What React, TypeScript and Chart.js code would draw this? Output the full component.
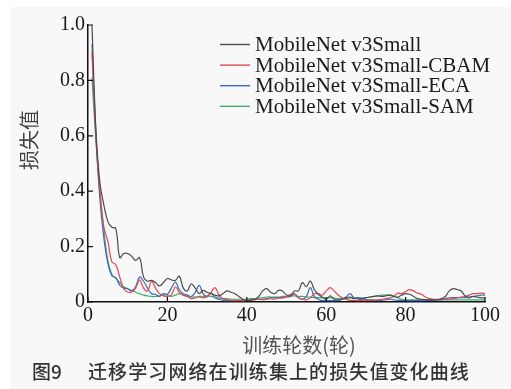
import React, { useEffect, useRef } from "react";
import { Chart, registerables } from "chart.js";
Chart.register(...registerables);

const epochs: number[] = Array.from({ length: 100 }, (_, i) => i + 1);

const seriesNames = [
  "MobileNet v3Small",
  "MobileNet v3Small-CBAM",
  "MobileNet v3Small-ECA",
  "MobileNet v3Small-SAM",
];
const seriesColors = ["#4d4d4d", "#e5484d", "#3b68c0", "#3daa6e"];

const baseLoss = [
  1.0, 0.62, 0.43, 0.35, 0.29, 0.27, 0.265, 0.16, 0.175, 0.175,
  0.165, 0.15, 0.16, 0.09, 0.075, 0.078, 0.07, 0.058, 0.07, 0.085,
  0.08, 0.078, 0.093, 0.05, 0.04, 0.065, 0.05, 0.03, 0.042, 0.035,
  0.03, 0.025, 0.022, 0.03, 0.04, 0.035, 0.03, 0.02, 0.01, 0.005,
  0.006, 0.01, 0.02, 0.04, 0.048, 0.035, 0.03, 0.042, 0.04, 0.025,
  0.022, 0.04, 0.04, 0.07, 0.055, 0.076, 0.045, 0.028, 0.018, 0.01,
  0.022, 0.01, 0.008, 0.01, 0.015, 0.018, 0.012, 0.015, 0.012, 0.015,
  0.018, 0.02, 0.022, 0.02, 0.022, 0.025, 0.02, 0.018, 0.025, 0.03,
  0.028, 0.02, 0.012, 0.01, 0.008, 0.008, 0.008, 0.008, 0.012, 0.02,
  0.04, 0.048, 0.045, 0.04, 0.022, 0.018, 0.02, 0.018, 0.015, 0.015,
];

const cbamLoss = [
  0.9, 0.6, 0.4, 0.27, 0.22, 0.145, 0.135, 0.09, 0.048, 0.036,
  0.036, 0.05, 0.08, 0.05, 0.04, 0.075, 0.05, 0.03, 0.022, 0.02,
  0.025, 0.055, 0.035, 0.025, 0.02, 0.012, 0.015, 0.018, 0.015, 0.02,
  0.035, 0.052, 0.025, 0.012, 0.008, 0.006, 0.006, 0.006, 0.005, 0.006,
  0.008, 0.008, 0.01, 0.008, 0.01, 0.012, 0.01, 0.015, 0.015, 0.02,
  0.028, 0.03, 0.015, 0.01, 0.008, 0.015, 0.03, 0.03, 0.025, 0.04,
  0.052, 0.04, 0.025, 0.015, 0.01, 0.006, 0.006, 0.005, 0.006, 0.006,
  0.006, 0.006, 0.008, 0.01, 0.012, 0.015, 0.02, 0.032, 0.03, 0.038,
  0.045, 0.04, 0.032, 0.028, 0.018, 0.012, 0.01, 0.01, 0.01, 0.01,
  0.01, 0.012, 0.015, 0.018, 0.02, 0.025, 0.03, 0.03, 0.032, 0.03,
];

const ecaLoss = [
  0.93, 0.6, 0.37, 0.23, 0.14, 0.095, 0.088, 0.06, 0.05, 0.048,
  0.04, 0.055, 0.09, 0.075, 0.05, 0.03, 0.028, 0.02, 0.03, 0.028,
  0.05, 0.072, 0.045, 0.03, 0.025, 0.02, 0.035, 0.06, 0.03, 0.018,
  0.033, 0.015, 0.01, 0.006, 0.005, 0.005, 0.005, 0.005, 0.005, 0.005,
  0.008, 0.01, 0.01, 0.01, 0.012, 0.015, 0.015, 0.015, 0.015, 0.018,
  0.02, 0.03, 0.015, 0.01, 0.02, 0.052, 0.02, 0.01, 0.005, 0.005,
  0.005, 0.005, 0.005, 0.01, 0.018, 0.03, 0.015, 0.01, 0.01, 0.01,
  0.008, 0.008, 0.006, 0.006, 0.008, 0.01, 0.008, 0.006, 0.006, 0.005,
  0.005, 0.005, 0.005, 0.005, 0.005, 0.006, 0.006, 0.008, 0.008, 0.012,
  0.015, 0.016, 0.016, 0.016, 0.016, 0.015, 0.02, 0.022, 0.025, 0.025,
];

const samLoss = [
  0.81, 0.58, 0.4, 0.26, 0.15, 0.1, 0.085, 0.07, 0.055, 0.048,
  0.042, 0.035, 0.03, 0.025, 0.022, 0.02, 0.02, 0.022, 0.025, 0.025,
  0.02, 0.025, 0.03, 0.025, 0.02, 0.018, 0.018, 0.02, 0.02, 0.022,
  0.02, 0.018, 0.015, 0.012, 0.012, 0.01, 0.01, 0.01, 0.01, 0.01,
  0.012, 0.012, 0.015, 0.015, 0.018, 0.018, 0.018, 0.018, 0.02, 0.02,
  0.022, 0.022, 0.02, 0.02, 0.018, 0.018, 0.016, 0.016, 0.015, 0.015,
  0.015, 0.015, 0.012, 0.012, 0.012, 0.015, 0.015, 0.015, 0.015, 0.016,
  0.018, 0.02, 0.022, 0.025, 0.025, 0.026, 0.022, 0.015, 0.01, 0.008,
  0.008, 0.008, 0.008, 0.008, 0.008, 0.008, 0.008, 0.008, 0.008, 0.008,
  0.008, 0.008, 0.008, 0.008, 0.008, 0.008, 0.008, 0.008, 0.008, 0.008,
];

const allSeries = [baseLoss, cbamLoss, ecaLoss, samLoss];

const xTicks = [0, 20, 40, 60, 80, 100];
const yTicks = [0, 0.2, 0.4, 0.6, 0.8, 1.0];
const yTitle = "损失值";
const xTitle = "训练轮数(轮)";
const figLabel = "图9";
const caption = "迁移学习网络在训练集上的损失值变化曲线";

const decorPlugin = {
  id: "decor",
  beforeDraw(chart: any) {
    const ctx = chart.ctx;
    ctx.save();
    ctx.fillStyle = "#ffffff";
    ctx.fillRect(0, 0, chart.width, chart.height);
    ctx.fillStyle = "#f8f8f8";
    ctx.fillRect(10, 7, chart.width - 10, chart.height - 7);
    ctx.restore();
  },
  afterDraw(chart: any) {
    const ctx = chart.ctx;
    const xs = chart.scales.x;
    const ys = chart.scales.y;
    const { left, bottom } = chart.chartArea;
    ctx.save();
    // inward ticks
    ctx.strokeStyle = "#111";
    ctx.lineWidth = 1.2;
    ctx.beginPath();
    xTicks.forEach((v) => {
      const px = xs.getPixelForValue(v);
      ctx.moveTo(px, bottom);
      ctx.lineTo(px, bottom - 5);
    });
    yTicks.forEach((v) => {
      const py = ys.getPixelForValue(v);
      ctx.moveTo(left, py);
      ctx.lineTo(left + 5, py);
    });
    ctx.stroke();

    // legend
    chart.data.datasets.forEach((ds: any, i: number) => {
      const y = 44.5 + i * 20.6;
      ctx.strokeStyle = ds.borderColor;
      ctx.lineWidth = 1.4;
      ctx.beginPath();
      ctx.moveTo(220, y);
      ctx.lineTo(250, y);
      ctx.stroke();
      ctx.fillStyle = "#1a1a1a";
      ctx.font = '21px "Liberation Serif"';
      ctx.textAlign = "left";
      ctx.textBaseline = "middle";
      ctx.fillText(ds.label, 255, y + 1);
    });

    // y title
    ctx.save();
    ctx.translate(29, 140);
    ctx.rotate(-Math.PI / 2);
    ctx.fillStyle = "#444";
    ctx.font = '20px "Noto Sans CJK SC"';
    ctx.textAlign = "center";
    ctx.textBaseline = "middle";
    ctx.fillText(yTitle, 0, 0);
    ctx.restore();

    // x title
    ctx.fillStyle = "#555";
    ctx.font = '20px "Noto Sans CJK SC"';
    ctx.textAlign = "center";
    ctx.textBaseline = "middle";
    ctx.fillText(xTitle, 299, 345);

    // caption
    ctx.fillStyle = "#333";
    ctx.font = '500 19px "Noto Sans CJK SC"';
    ctx.textAlign = "left";
    ctx.textBaseline = "middle";
    ctx.fillText(figLabel, 32, 372);
    const chars = Array.from(caption);
    chars.forEach((c, i) => {
      ctx.fillText(c, 88 + i * 20.1, 372);
    });
    ctx.restore();
  },
};

export default function App() {
  const ref = useRef<HTMLCanvasElement | null>(null);
  useEffect(() => {
    if (!ref.current) return;
    const chart = new Chart(ref.current, {
      type: "line",
      data: {
        datasets: allSeries.map((s, i) => ({
          label: seriesNames[i],
          data: s.map((v, j) => ({ x: epochs[j], y: v })),
          borderColor: seriesColors[i],
          backgroundColor: seriesColors[i],
          borderWidth: 1.2,
          pointRadius: 0,
          tension: 0.4,
          fill: false,
        })),
      },
      options: {
        animation: false,
        responsive: false,
        maintainAspectRatio: false,
        layout: { padding: { top: 25, right: 26, left: 0, bottom: 0 } },
        plugins: {
          legend: { display: false },
          tooltip: { enabled: false },
        },
        scales: {
          x: {
            type: "linear",
            min: 0,
            max: 100,
            afterFit: (s: any) => {
              s.height = 87;
            },
            afterBuildTicks: (s: any) => {
              s.ticks = xTicks.map((v) => ({ value: v }));
            },
            ticks: {
              font: { family: "Liberation Serif", size: 20 },
              color: "#1a1a1a",
              padding: 2,
              maxRotation: 0,
              autoSkip: false,
            },
            grid: { drawOnChartArea: false, drawTicks: false },
            border: { display: true, color: "#111", width: 1.5 },
          },
          y: {
            type: "linear",
            min: 0,
            max: 1.0,
            afterFit: (s: any) => {
              s.width = 88;
            },
            afterBuildTicks: (s: any) => {
              s.ticks = yTicks.map((v) => ({ value: v }));
            },
            ticks: {
              font: { family: "Liberation Serif", size: 20 },
              color: "#1a1a1a",
              padding: 3,
              autoSkip: false,
              callback: (v: any) => (Number(v) === 0 ? "0" : Number(v).toFixed(1)),
            },
            grid: { drawOnChartArea: false, drawTicks: false },
            border: { display: true, color: "#111", width: 1.5 },
          },
        },
      },
      plugins: [decorPlugin],
    });
    return () => chart.destroy();
  }, []);
  return (
    <div style={{ position: "fixed", left: 0, top: 0, width: 511, height: 389 }}>
      <canvas ref={ref} width={511} height={389} style={{ width: 511, height: 389, display: "block" }} />
    </div>
  );
}
